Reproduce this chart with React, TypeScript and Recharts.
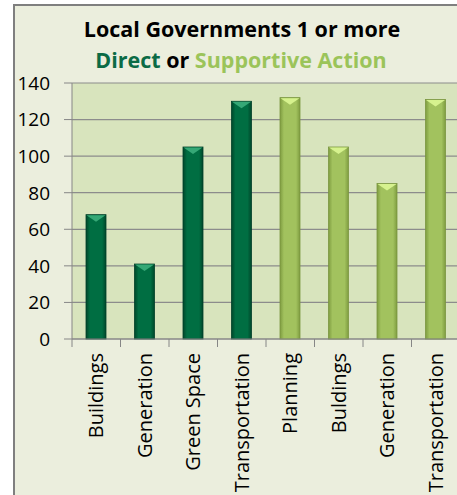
import { BarChart, Bar, XAxis, YAxis, CartesianGrid, Cell } from 'recharts';

const categories = [
  'Buildings',
  'Generation',
  'Green Space',
  'Transportation',
  'Planning',
  'Buldings',
  'Generation',
  'Transportation',
];
const counts = [68, 41, 105, 130, 132, 105, 85, 131];
const kinds = ['direct', 'direct', 'direct', 'direct', 'supportive', 'supportive', 'supportive', 'supportive'];
const yTicks = [0, 20, 40, 60, 80, 100, 120, 140];

const data = categories.map((name, i) => ({ key: i, name, value: counts[i], kind: kinds[i] }));

const PALETTE: Record<string, { body: string; edge: string; top: string; line: string }> = {
  direct: { body: '#006E42', edge: '#00472A', top: '#35A876', line: '#00402A' },
  supportive: { body: '#A2C25E', edge: '#7E9C40', top: '#D6F28E', line: '#7A9640' },
};

const FONT = '"Open Sans", "Noto Sans", sans-serif';

function BevelBar(props: any) {
  const { x, y, width, height, payload } = props;
  if (!height || height <= 0) return null;
  const c = PALETTE[payload.kind];
  const tip = Math.min(7, height);
  return (
    <g>
      <rect x={x} y={y} width={width} height={height} fill={`url(#grad-${payload.kind})`} stroke={c.line} strokeWidth={0.8} />
      <polygon
        points={`${x + 0.5},${y + 0.5} ${x + width - 0.5},${y + 0.5} ${x + width / 2},${y + tip}`}
        fill={c.top}
      />
    </g>
  );
}

function CategoryTick(props: any) {
  const { x, y, payload } = props;
  const half = payload.offset ?? 24.25;
  return (
    <g>
      <line x1={x - half} y1={y - 8} x2={x - half} y2={y} stroke="#868686" strokeWidth={1} />
      <text
        x={x}
        y={y + 6}
        transform={`rotate(-90, ${x}, ${y + 6})`}
        textAnchor="end"
        dy="0.36em"
        fontFamily={FONT}
        fontSize={20}
        fill="#000"
      >
        {payload.value}
      </text>
    </g>
  );
}

function ValueTick(props: any) {
  const { y, payload } = props;
  return (
    <text x={50} y={y} textAnchor="end" dy="0.36em" fontFamily={FONT} fontSize={19} fill="#000">
      {payload.value}
    </text>
  );
}

export default function App() {
  return (
    <div style={{ position: 'absolute', left: 0, top: 0, width: 457, height: 495, overflow: 'hidden', background: '#fff' }}>
      <div
        style={{
          position: 'absolute',
          left: 13,
          top: 4,
          width: 470,
          height: 510,
          background: '#EBEEDD',
          border: '2px solid #7F7F7F',
        }}
      />
      <div style={{ position: 'absolute', left: 0, top: 0 }}>
        <BarChart
          width={480}
          height={495}
          data={data}
          margin={{ top: 83, right: 20, bottom: 0, left: 0 }}
          barSize={20}
        >
          <defs>
            {Object.keys(PALETTE).map((k) => (
              <linearGradient key={k} id={`grad-${k}`} x1="0" y1="0" x2="1" y2="0">
                <stop offset="0%" stopColor={PALETTE[k].edge} />
                <stop offset="20%" stopColor={PALETTE[k].body} />
                <stop offset="80%" stopColor={PALETTE[k].body} />
                <stop offset="100%" stopColor={PALETTE[k].edge} />
              </linearGradient>
            ))}
          </defs>
          <text x={242} y={37} textAnchor="middle" fontFamily={FONT} fontWeight={700} fontSize={21.5} fill="#000">
            Local Governments 1 or more
          </text>
          <text x={241} y={68} textAnchor="middle" fontFamily={FONT} fontWeight={700} fontSize={21.5}>
            <tspan fill="#0B6B45">Direct</tspan>
            <tspan fill="#000"> or </tspan>
            <tspan fill="#9BC45A">Supportive Action</tspan>
          </text>
          <CartesianGrid vertical={false} fill="#D8E4BD" stroke="#8C8C8C" strokeWidth={1.2} />
          <XAxis
            dataKey="key"
            type="category"
            height={156}
            interval={0}
            axisLine={{ stroke: '#868686' }}
            tickLine={false}
            tick={(p: any) => <CategoryTick {...p} payload={{ ...p.payload, value: categories[p.payload.value] }} />}
          />
          <YAxis
            width={72}
            domain={[0, 140]}
            ticks={yTicks}
            interval={0}
            axisLine={{ stroke: '#868686' }}
            tickLine={{ stroke: '#868686' }}
            tickSize={8}
            tick={<ValueTick />}
          />
          <Bar dataKey="value" isAnimationActive={false} shape={<BevelBar />}>
            {data.map((d) => (
              <Cell key={d.key} fill={PALETTE[d.kind].body} />
            ))}
          </Bar>
        </BarChart>
      </div>
    </div>
  );
}
